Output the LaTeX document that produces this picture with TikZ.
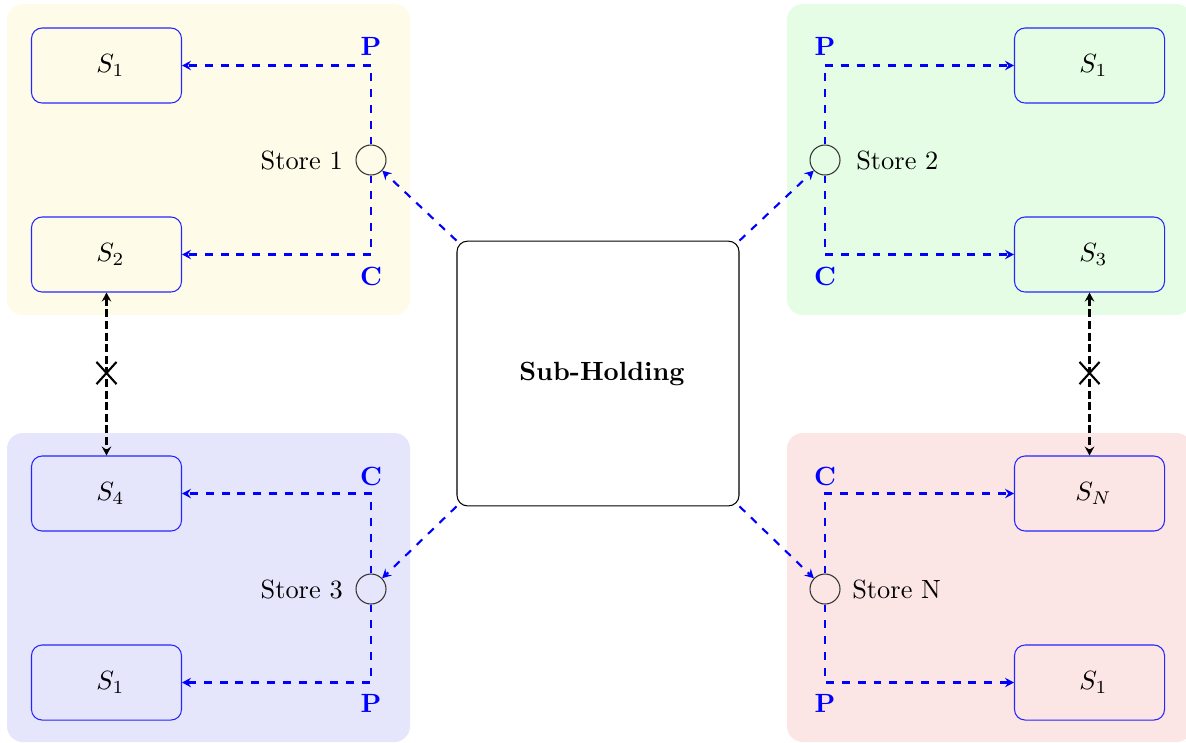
\documentclass[tikz,border=0pt]{standalone}
\usetikzlibrary{arrows.meta,shapes.misc}
\definecolor{pyel}{RGB}{254,251,232}
\definecolor{pgrn}{RGB}{228,253,228}
\definecolor{pblu}{RGB}{229,229,252}
\definecolor{pred}{RGB}{252,229,229}
\begin{document}
\begin{tikzpicture}[x=0.13333mm,y=-0.13333mm,
 sbox/.style={draw=blue!85, rounded corners, minimum width=2cm, minimum height=1cm, inner sep=0pt},
 store/.style={circle, draw=black!80, minimum size=0.4cm, inner sep=0pt},
 flow/.style={blue, thick, dashed, -{Stealth[length=3.4pt,width=3.6pt,inset=1.2pt]}},
 lab/.style={text=blue, font=\bfseries},
 link/.style={black, thick, dash pattern=on 3pt off 1.4pt, {Stealth[length=3.4pt,width=3.6pt,inset=1.2pt]}-{Stealth[length=3.4pt,width=3.6pt,inset=1.2pt]}},
 xmark/.style={cross out, draw=black, thick, minimum width=6.8pt, minimum height=7.6pt, inner sep=0pt},
]
\useasboundingbox (0,0) rectangle (1186,742);
\begin{scope}
\clip (0,0) rectangle (1186,742);
\fill[pyel, rounded corners=6pt] (7,4) rectangle (410,315);
\fill[pgrn, rounded corners=6pt] (787,4) rectangle (1192,315);
\fill[pblu, rounded corners=6pt] (7,433) rectangle (410,742);
\fill[pred, rounded corners=6pt] (787,433) rectangle (1192,742);
\end{scope}

% boxes
\node[sbox] (a1) at (106.5,65.5) {\hspace*{3pt}$S_1$};
\node[sbox] (a2) at (106.5,254.5) {\hspace*{3pt}$S_2$};
\node[sbox] (b1) at (1089.5,65.5) {\hspace*{3pt}$S_1$};
\node[sbox] (b3) at (1089.5,254.5) {\hspace*{3pt}$S_3$};
\node[sbox] (c4) at (106.5,493.5) {\hspace*{3pt}$S_4$};
\node[sbox] (c1) at (106.5,682.5) {\hspace*{3pt}$S_1$};
\node[sbox] (dn) at (1089.5,493.5) {\hspace*{3pt}$S_N$};
\node[sbox] (d1) at (1089.5,682.5) {\hspace*{3pt}$S_1$};

% stores
\node[store] (st1) at (371,160) {};
\node[store] (st2) at (825,160) {};
\node[store] (st3) at (371,589) {};
\node[store] (stn) at (825,589) {};
\node[anchor=east] (l1) at (352,160) {Store 1};
\node[anchor=west] (l2) at (847,160) {Store 2};
\node[anchor=east] (l3) at (352,589) {Store 3};
\node[anchor=west] (ln) at (843,589) {Store N};

% P / C labels
\node[lab] (p1) at (371,46) {P};
\node[lab] (k1) at (371,276) {C};
\node[lab] (p2) at (825,46) {P};
\node[lab] (k2) at (825,276) {C};
\node[lab] (k3) at (371,476) {C};
\node[lab] (p3) at (371,703) {P};
\node[lab] (kn) at (825,476) {C};
\node[lab] (pn) at (825,703) {P};

% store flows
\draw[flow] (st1.north) |- (a1.east);
\draw[flow] (st1.south) |- (a2.east);
\draw[flow] (st2.north) |- (b1.west);
\draw[flow] (st2.south) |- (b3.west);
\draw[flow] (st3.north) |- (c4.east);
\draw[flow] (st3.south) |- (c1.east);
\draw[flow] (stn.north) |- (dn.west);
\draw[flow] (stn.south) |- (d1.west);

% center
\node[draw, rounded corners, minimum width=3.76cm, minimum height=3.53cm, font=\bfseries] (sub) at (598,373.5) {\hspace*{3pt}Sub-Holding};
\draw[flow] (sub.north west) -- (st1);
\draw[flow] (sub.north east) -- (st2);
\draw[flow] (sub.south west) -- (st3);
\draw[flow] (sub.south east) -- (stn);

% links
\draw[link] (a2.south) -- (c4.north);
\draw[link] (b3.south) -- (dn.north);
\node[xmark] (x1) at (106.5,373) {};
\node[xmark] (x2) at (1089.5,373) {};
\end{tikzpicture}
\end{document}
